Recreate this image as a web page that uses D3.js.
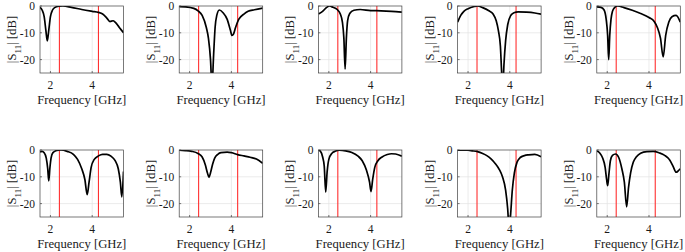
<!DOCTYPE html>
<html>
<head>
<meta charset="utf-8">
<script src="https://cdn.jsdelivr.net/npm/d3@7"></script>
<style>
  body { margin: 0; background: #fff; }
  svg { display: block; }
</style>
</head>
<body>
<div id="chart"></div>
<script>
// S11 curves, one pair of arrays per panel (frequency in GHz, level in dB)
const f1 = [1.5, 1.6, 1.7, 1.78, 1.85, 1.92, 2.0, 2.1, 2.2, 2.4, 2.6, 3.0, 3.5, 4.0, 4.3, 4.5, 4.7, 4.85, 5.0, 5.1, 5.3, 5.5];
const s1 = [-0.5, -1.5, -4, -9, -13, -9, -4, -1.5, -0.6, -0.1, 0, -0.5, -1.3, -2, -2.4, -3, -4.5, -5.8, -5.5, -6, -8, -10];

const f2 = [1.5, 1.8, 2.2, 2.4, 2.6, 2.8, 2.9, 3.0, 3.07, 3.15, 3.22, 3.3, 3.42, 3.6, 3.8, 3.95, 4.03, 4.1, 4.2, 4.35, 4.6, 4.8, 5.1, 5.5];
const s2 = [-0.2, -0.3, -0.9, -1.8, -3.5, -8, -12, -20, -30, -18, -8, -3.5, -1.5, -2.5, -5, -9, -11, -10.5, -8, -5, -3, -2, -1.4, -0.8];

const f3 = [1.5, 1.7, 1.9, 2.03, 2.2, 2.4, 2.55, 2.65, 2.72, 2.78, 2.84, 2.9, 3.0, 3.2, 3.5, 4.0, 4.5, 5.0, 5.5];
const s3 = [-3, -2, -0.5, 0, -0.5, -1.3, -3, -6, -12, -23.5, -12, -5.5, -2.8, -1.6, -1.3, -1.7, -1.8, -2, -2.3];

const f4 = [1.5, 1.65, 1.8, 2.0, 2.3, 2.45, 2.7, 3.0, 3.2, 3.35, 3.45, 3.55, 3.62, 3.67, 3.72, 3.8, 3.9, 4.05, 4.2, 4.4, 4.8, 5.2, 5.5];
const s4 = [-6, -3.5, -2, -1, -0.2, 0, -0.6, -1.8, -3, -5.5, -9, -15, -26, -30, -22, -13, -7, -3.5, -2.5, -2.2, -2.3, -2.6, -3];

const f5 = [1.5, 1.7, 1.85, 1.95, 2.02, 2.07, 2.12, 2.18, 2.25, 2.35, 2.5, 2.8, 3.2, 3.6, 4.0, 4.25, 4.4, 4.55, 4.68, 4.8, 4.95, 5.1, 5.3, 5.5];
const s5 = [-0.3, -0.5, -1.5, -5, -11, -20, -11, -5, -2, -0.6, 0, -0.6, -1.6, -2.8, -4.3, -5.8, -8, -12, -19, -11, -6, -4, -3.5, -6];

const f6 = [1.5, 1.6, 1.7, 1.8, 1.87, 1.92, 1.97, 2.03, 2.12, 2.3, 2.5, 2.8, 3.1, 3.3, 3.5, 3.65, 3.76, 3.85, 3.95, 4.1, 4.3, 4.5, 4.7, 4.9, 5.1, 5.25, 5.35, 5.42, 5.5];
const s6 = [-0.7, -0.5, -1, -3, -7, -11.5, -7, -3, -1, -0.2, 0, -0.5, -1.6, -3.5, -7, -11, -16.7, -12, -6.5, -3.5, -2.2, -1.6, -1.6, -2.3, -4, -7, -12, -17.5, -8];

const f7 = [1.5, 1.8, 2.1, 2.4, 2.6, 2.75, 2.85, 2.93, 3.0, 3.1, 3.2, 3.35, 3.5, 3.8, 4.0, 4.3, 4.6, 4.9, 5.2, 5.5];
const s7 = [-0.1, -0.2, -0.5, -1.3, -2.6, -5.5, -8.5, -10.2, -8.5, -5.3, -3, -1.6, -1, -0.8, -1, -1.7, -2.2, -2.7, -3.4, -5];

const f8 = [1.5, 1.6, 1.7, 1.78, 1.85, 1.92, 2.0, 2.15, 2.3, 2.5, 2.8, 3.1, 3.4, 3.6, 3.8, 3.95, 4.02, 4.1, 4.2, 4.35, 4.55, 4.8, 5.0, 5.2, 5.5];
const s8 = [-0.1, -0.5, -2.5, -6, -15.7, -8, -3.5, -1.2, -0.5, -0.1, -0.3, -0.9, -2.3, -4, -7.5, -12, -15.5, -11, -6.5, -4, -2.6, -1.7, -1.4, -1.5, -2.3];

const f9 = [1.5, 2.0, 2.2, 2.45, 2.7, 2.9, 3.1, 3.3, 3.5, 3.65, 3.8, 3.9, 3.97, 4.04, 4.12, 4.22, 4.35, 4.5, 4.7, 4.9, 5.2, 5.5];
const s9 = [-0.1, -0.1, -0.3, -0.6, -1.3, -2.1, -3.3, -5, -7.3, -10, -15, -22, -30, -24, -15, -8.5, -4.5, -2.8, -2.1, -1.8, -1.6, -2.5];

const f10 = [1.5, 1.65, 1.78, 1.9, 1.97, 2.02, 2.08, 2.15, 2.25, 2.4, 2.55, 2.7, 2.82, 2.93, 3.02, 3.12, 3.25, 3.4, 3.6, 3.9, 4.2, 4.5, 4.75, 5.0, 5.15, 5.3, 5.4, 5.5];
const s10 = [-0.4, -1.2, -3, -6.5, -11, -13.3, -9, -4, -2, -1.5, -2.8, -7, -12, -21.2, -14, -8.5, -4.5, -2.5, -1.2, -0.6, -0.5, -1.1, -2, -3.8, -6, -8.3, -7.8, -7];

const freqs = [f1, f2, f3, f4, f5, f6, f7, f8, f9, f10];
const levels = [s1, s2, s3, s4, s5, s6, s7, s8, s9, s10];

// band edges (red markers) and axis ticks
const bandEdges = [2.43, 4.3];
const xTicks = [2, 4];
const yTicks = [0, -10, -20];

const width = 685, height = 252;
const plotW = 83.5, plotH = 67;
const colLeft = 40, colStep = 139.2;
const rowTop = [6, 150];

const svg = d3.select("#chart").append("svg")
  .attr("width", width)
  .attr("height", height)
  .style("font-family", "'Liberation Serif'");

const x = d3.scaleLinear().domain([1.5, 5.5]).range([0, plotW]);
const y = d3.scaleLinear().domain([-25, 0]).range([plotH, 0]);

const line = d3.line()
  .x(d => x(d[0]))
  .y(d => y(d[1]))
  .curve(d3.curveMonotoneX);

svg.append("defs").append("clipPath")
  .attr("id", "plot-clip")
  .append("rect")
  .attr("width", plotW)
  .attr("height", plotH);

freqs.forEach((fr, i) => {
  const col = i % 5, row = Math.floor(i / 5);
  const g = svg.append("g")
    .attr("transform", `translate(${colLeft + col * colStep},${rowTop[row]})`);

  // grid
  g.selectAll(".gx").data(xTicks).join("line")
    .attr("x1", d => x(d)).attr("x2", d => x(d))
    .attr("y1", 0).attr("y2", plotH)
    .attr("stroke", "#e3e3e3").attr("stroke-width", 0.7);
  g.selectAll(".gy").data(yTicks.filter(d => d > -25 && d < 0)).join("line")
    .attr("x1", 0).attr("x2", plotW)
    .attr("y1", d => y(d)).attr("y2", d => y(d))
    .attr("stroke", "#e3e3e3").attr("stroke-width", 0.7);

  // red band markers
  g.selectAll(".band").data(bandEdges).join("line")
    .attr("x1", d => x(d)).attr("x2", d => x(d))
    .attr("y1", 0).attr("y2", plotH)
    .attr("stroke", "#ff3030").attr("stroke-width", 1.1);

  // curve
  const pts = fr.map((f, k) => [f, levels[i][k]]);
  g.append("path")
    .datum(pts)
    .attr("clip-path", "url(#plot-clip)")
    .attr("fill", "none")
    .attr("stroke", "#000")
    .attr("stroke-width", 1.7)
    .attr("d", line);

  // box and inward ticks
  g.append("rect")
    .attr("width", plotW).attr("height", plotH)
    .attr("fill", "none").attr("stroke", "#404040").attr("stroke-width", 0.7);
  g.selectAll(".tx").data(xTicks).join("line")
    .attr("x1", d => x(d)).attr("x2", d => x(d))
    .attr("y1", plotH).attr("y2", plotH - 2)
    .attr("stroke", "#404040").attr("stroke-width", 0.7);
  g.selectAll(".ty").data(yTicks).join("line")
    .attr("x1", 0).attr("x2", 2)
    .attr("y1", d => y(d)).attr("y2", d => y(d))
    .attr("stroke", "#404040").attr("stroke-width", 0.7);

  // tick labels
  g.selectAll(".lx").data(xTicks).join("text")
    .attr("x", d => x(d)).attr("y", plotH + 16)
    .attr("text-anchor", "middle")
    .attr("font-size", "11.5px")
    .attr("fill", "#1a1a1a")
    .text(d => d);
  g.selectAll(".ly").data(yTicks).join("text")
    .attr("x", -5).attr("y", d => y(d))
    .attr("dy", "0.35em")
    .attr("text-anchor", "end")
    .attr("font-size", "11.5px")
    .attr("fill", "#1a1a1a")
    .text(d => d);

  // axis labels
  g.append("text")
    .attr("x", plotW / 2).attr("y", plotH + 31)
    .attr("text-anchor", "middle")
    .attr("font-size", "12.7px")
    .attr("fill", "#1a1a1a")
    .text("Frequency [GHz]");

  const yl = g.append("text")
    .attr("transform", `translate(-24,${plotH / 2}) rotate(-90)`)
    .attr("text-anchor", "middle")
    .attr("font-size", "12.7px")
    .attr("fill", "#1a1a1a");
  yl.append("tspan").text("|S");
  yl.append("tspan").attr("baseline-shift", "sub").attr("font-size", "9px").text("11");
  yl.append("tspan").text("| [dB]");
});
</script>
</body>
</html>
